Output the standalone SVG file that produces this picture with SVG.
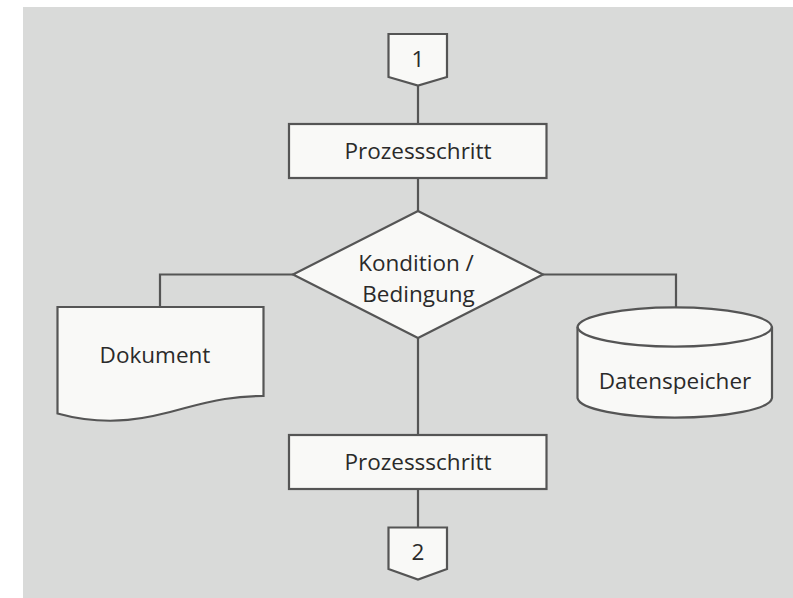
<svg xmlns="http://www.w3.org/2000/svg" width="793" height="598" viewBox="0 0 793 598">
<style>
.shape{fill:#f9f9f7;stroke:#555555;stroke-width:2.2;stroke-linejoin:miter}
.line{fill:none;stroke:#555555;stroke-width:2.2}
.txt{font-family:"Open Sans","Noto Sans","Liberation Sans",sans-serif;font-size:22.5px;fill:#2a2a2a;text-anchor:middle}
</style>
<rect x="0" y="0" width="793" height="598" fill="#ffffff"/>
<rect x="23" y="7" width="770" height="591" fill="#d9dad9"/>
<g id="connectors">
<line class="line" x1="418" y1="85" x2="418" y2="124"/>
<line class="line" x1="418" y1="178" x2="418" y2="211"/>
<polyline class="line" points="293,274.5 160,274.5 160,307"/>
<polyline class="line" points="543,274.5 676,274.5 676,307"/>
<line class="line" x1="418" y1="338" x2="418" y2="435"/>
<line class="line" x1="418" y1="489" x2="418" y2="527"/>
</g>
<g id="start">
<polygon class="shape" points="388.5,34 447,34 447,77 418,85.5 388.5,77"/>
<text class="txt" x="418" y="66.5">1</text>
</g>
<g id="process1">
<rect class="shape" x="289" y="124" width="257.5" height="54"/>
<text class="txt" x="418" y="159">Prozessschritt</text>
</g>
<g id="decision">
<polygon class="shape" points="418,211 543,274.5 418,338 293,274.5"/>
<text class="txt" x="416" y="270.5">Kondition /</text>
<text class="txt" x="418.5" y="301.5">Bedingung</text>
</g>
<g id="document">
<path class="shape" d="M57.5,307 H263.5 V396 C235,396 215,400 185,408 C150,418 110,428 57.5,413.5 Z"/>
<text class="txt" x="155" y="363">Dokument</text>
</g>
<g id="datastore">
<path class="shape" d="M577.5,327 A97.3,20.3 0 0 1 772,327 V398 A97.3,20.3 0 0 1 577.5,398 Z"/>
<path class="line" d="M577.5,327 A97.3,20.3 0 0 0 772,327"/>
<text class="txt" x="675" y="388.5">Datenspeicher</text>
</g>
<g id="process2">
<rect class="shape" x="289" y="435" width="257.5" height="54"/>
<text class="txt" x="418" y="469.5">Prozessschritt</text>
</g>
<g id="end">
<polygon class="shape" points="388.5,527.5 447,527.5 447,569 418,579.5 388.5,569"/>
<text class="txt" x="418" y="560">2</text>
</g>
</svg>
